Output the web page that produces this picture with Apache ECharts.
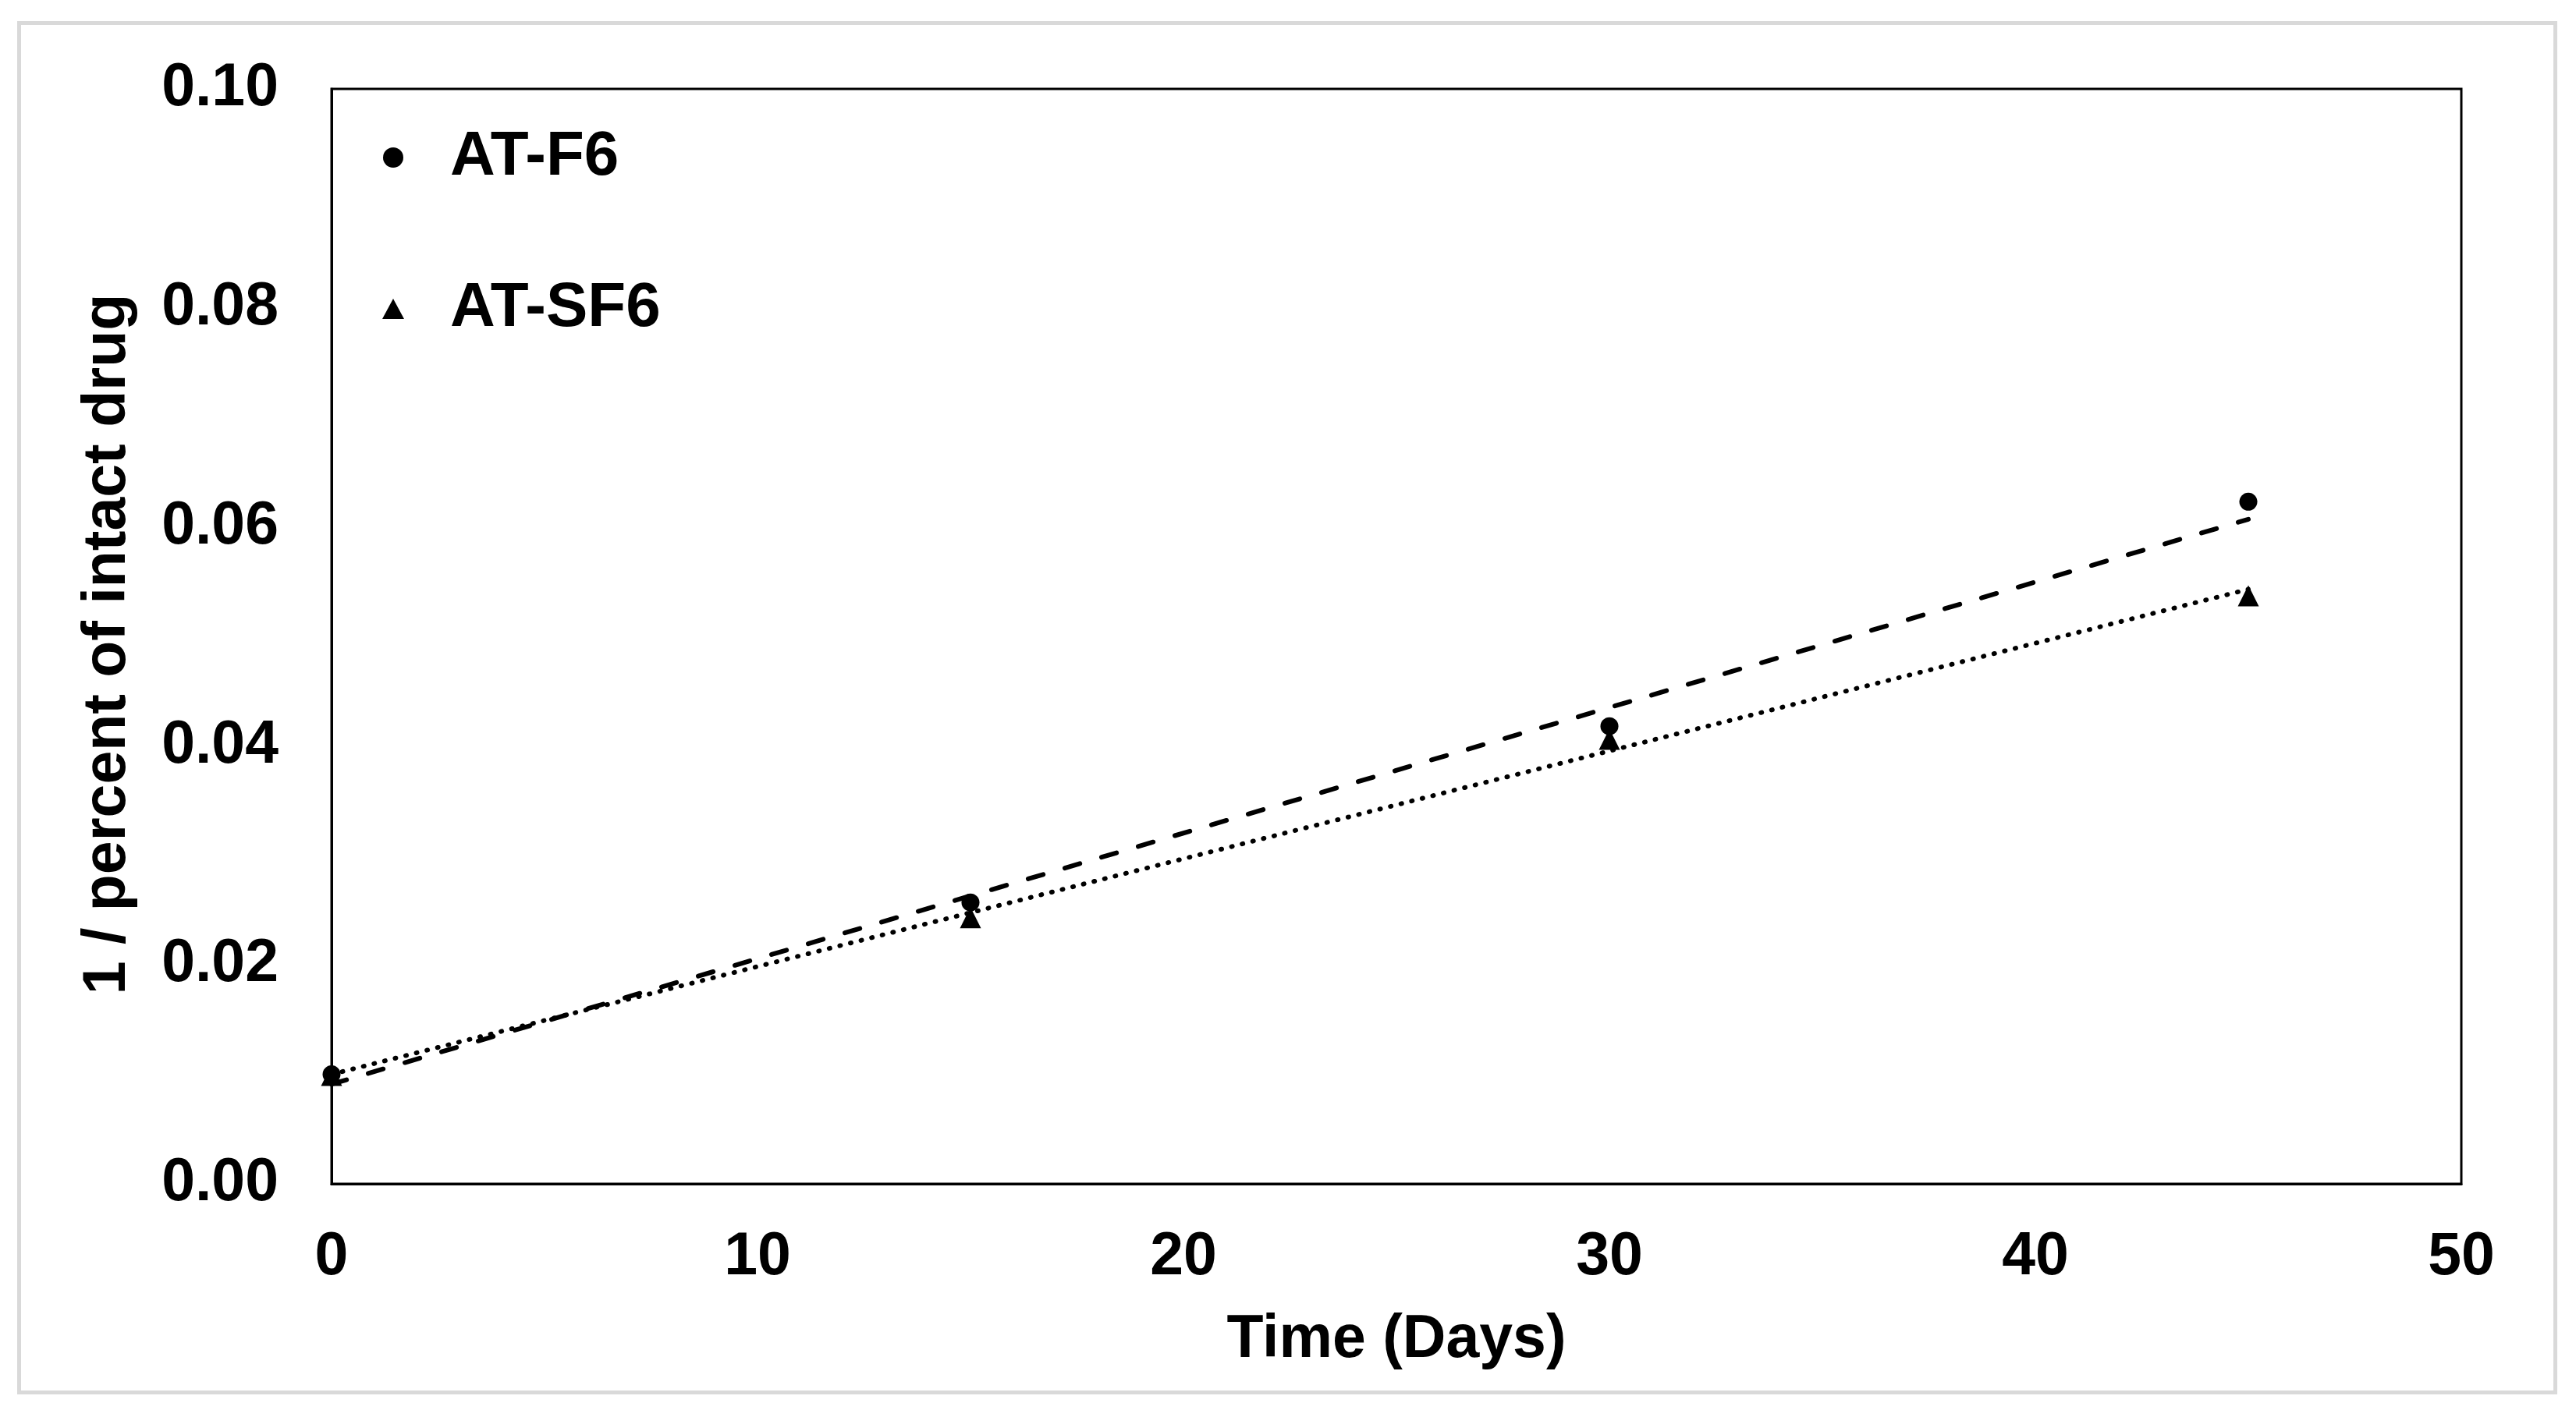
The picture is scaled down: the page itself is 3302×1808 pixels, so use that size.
<!DOCTYPE html>
<html>
<head>
<meta charset="utf-8">
<script src="https://cdn.jsdelivr.net/npm/echarts@6/dist/echarts.min.js"></script>
<style>
html,body{margin:0;padding:0;background:#fff;}
#chart{width:3302px;height:1808px;}
</style>
</head>
<body>
<div id="chart"></div>
<script>
// ---- data ----
const seriesNames = ['AT-F6', 'AT-SF6'];
const days = [0, 15, 30, 45];
const atF6 = [0.0100, 0.0257, 0.0418, 0.0623];
const atSF6 = [0.0099, 0.0243, 0.0406, 0.0537];
// trend line end points (x, y)
const trendF6 = [[0, 0.0091], [45, 0.0607]];
const trendSF6 = [[0, 0.0100], [45, 0.0543]];
const xTickLabels = ['0', '10', '20', '30', '40', '50'];
const yTickLabels = ['0.00', '0.02', '0.04', '0.06', '0.08', '0.10'];
const xTitle = 'Time (Days)';
const yTitle = '1 / percent of intact drug';

const FONT = '"Liberation Sans", Arial, sans-serif';
const AXFS = 77;
const chart = echarts.init(document.getElementById('chart'), null, {renderer: 'canvas'});

const pts = (xs, ys) => xs.map((x, i) => [x, ys[i]]);

const option = {
  backgroundColor: '#ffffff',
  animation: false,
  graphic: [{
    type: 'rect',
    left: 22, top: 27,
    shape: {width: 3251, height: 1756},
    style: {fill: 'none', stroke: '#d9d9d9', lineWidth: 5},
    silent: true
  }],
  grid: {
    left: 425, right: 147, top: 114, bottom: 290,
    show: true, borderColor: '#000', borderWidth: 3, backgroundColor: 'transparent'
  },
  legend: {
    orient: 'vertical',
    left: 485, top: 155,
    itemWidth: 28, itemHeight: 26,
    itemGap: 110,
    data: seriesNames,
    itemStyle: {opacity: 1},
    textStyle: {fontFamily: FONT, fontWeight: 'bold', fontSize: 80, color: '#000', lineHeight: 84, padding: [0, 0, 0, 54]},
    selectedMode: false
  },
  xAxis: {
    type: 'value',
    min: 0, max: 50, interval: 10,
    name: xTitle,
    nameLocation: 'middle',
    nameGap: 162,
    nameTextStyle: {fontFamily: FONT, fontWeight: 'bold', fontSize: AXFS, color: '#000'},
    axisLine: {show: true, lineStyle: {color: '#000', width: 3}},
    axisTick: {show: false},
    splitLine: {show: false},
    axisLabel: {
      fontFamily: FONT, fontWeight: 'bold', fontSize: AXFS, color: '#000', margin: 56,
      formatter: v => xTickLabels[Math.round(v / 10)]
    }
  },
  yAxis: {
    type: 'value',
    min: 0, max: 0.1, interval: 0.02,
    name: yTitle,
    nameLocation: 'middle',
    nameGap: 248,
    nameTextStyle: {fontFamily: FONT, fontWeight: 'bold', fontSize: AXFS, color: '#000', padding: [0, 20, 0, 0]},
    axisLine: {show: true, lineStyle: {color: '#000', width: 3}},
    axisTick: {show: false},
    splitLine: {show: false},
    axisLabel: {
      fontFamily: FONT, fontWeight: 'bold', fontSize: AXFS, color: '#000', margin: 68,
      formatter: v => yTickLabels[Math.round(v / 0.02)]
    }
  },
  series: [
    {
      name: 'AT-F6 trend', type: 'line', data: trendF6, symbol: 'none', silent: true,
      lineStyle: {color: '#000', width: 6, type: [20, 29], cap: 'round'}, z: 2
    },
    {
      name: 'AT-SF6 trend', type: 'line', data: trendSF6, symbol: 'none', silent: true,
      lineStyle: {color: '#000', width: 6, type: [1, 13], cap: 'round'}, z: 2
    },
    {
      name: seriesNames[0], type: 'scatter', data: pts(days, atF6),
      symbol: 'circle', symbolSize: 23, itemStyle: {color: '#000', opacity: 1}, z: 3
    },
    {
      name: seriesNames[1], type: 'scatter', data: pts(days, atSF6),
      symbol: 'triangle', symbolSize: 27, itemStyle: {color: '#000', opacity: 1}, z: 3
    }
  ]
};
chart.setOption(option);
</script>
</body>
</html>
